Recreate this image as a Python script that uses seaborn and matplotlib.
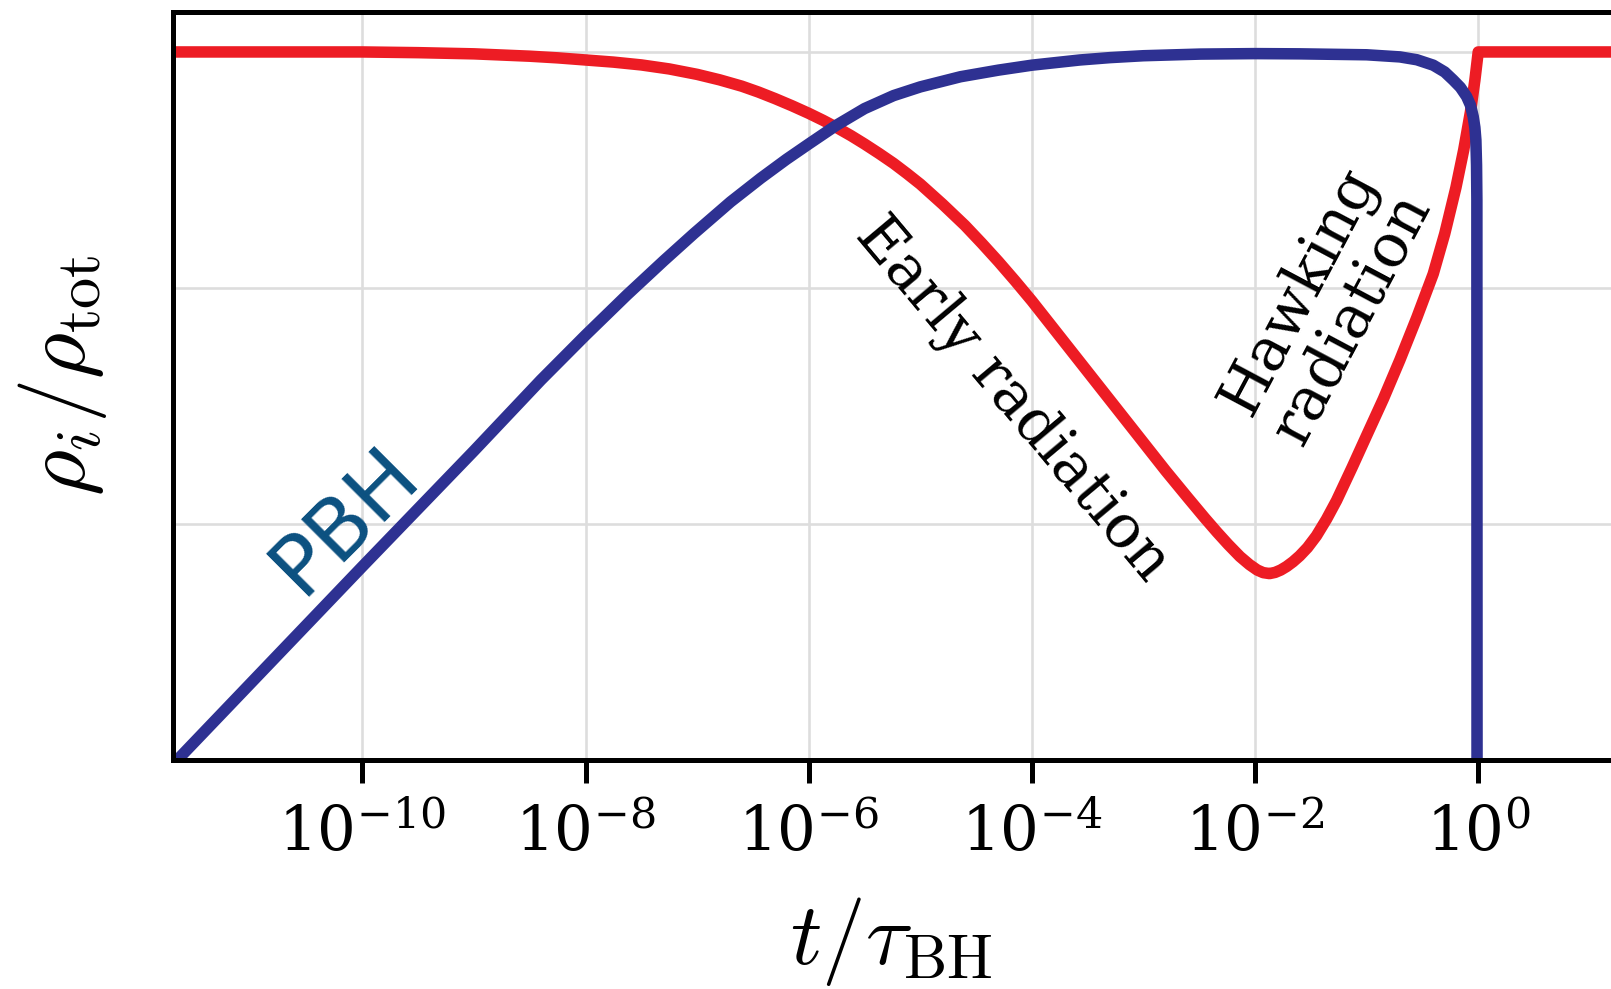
import numpy as np
import pandas as pd
import seaborn as sns
import matplotlib.pyplot as plt

# valores (expoentes em log10)
t_exp_rad = [-11.7, -10.0, -9.5, -9.0, -8.75, -8.5, -8.25, -8.0, -7.75, -7.5, -7.25, -7.0,
             -6.8, -6.6, -6.45, -6.3, -6.15, -6.0, -5.87, -5.75, -5.62, -5.5, -5.37, -5.24,
             -5.12, -5.0, -4.8, -4.6, -4.45, -4.3, -4.15, -4.0, -3.7, -3.4, -3.1, -2.8,
             -2.6, -2.45, -2.34, -2.24, -2.135, -2.05, -1.98, -1.927, -1.87, -1.82, -1.77,
             -1.717, -1.66, -1.6, -1.53, -1.45, -1.36, -1.269, -1.13, -1.0, -0.85, -0.702,
             -0.55, -0.403, -0.3, -0.2, -0.13, -0.07, -0.03, 0.0, 1.3]
rad_exp = [0.0, 0.0, -0.003, -0.008, -0.013, -0.018, -0.025, -0.034, -0.043, -0.055, -0.072,
           -0.095, -0.118, -0.145, -0.17, -0.198, -0.228, -0.26, -0.29, -0.32, -0.355, -0.39,
           -0.43, -0.472, -0.515, -0.56, -0.645, -0.735, -0.81, -0.888, -0.97, -1.055, -1.235,
           -1.415, -1.595, -1.775, -1.89, -1.975, -2.035, -2.087, -2.138, -2.172, -2.195,
           -2.206, -2.21, -2.205, -2.195, -2.18, -2.16, -2.135, -2.10, -2.05, -1.98, -1.90,
           -1.76, -1.625, -1.47, -1.305, -1.125, -0.94, -0.77, -0.575, -0.415, -0.255, -0.12,
           0.0, 0.0]

t_exp_pbh = [-11.7, -10.0, -9.0, -8.4, -8.0, -7.63, -7.3, -7.03, -6.7, -6.43, -6.2, -6.0,
             -5.75, -5.5, -5.24, -5.0, -4.64, -4.3, -4.0, -3.57, -3.3, -3.0, -2.49, -2.0,
             -1.6, -1.0, -0.702, -0.55, -0.403, -0.3, -0.224, -0.16, -0.104, -0.07, -0.045,
             -0.03, -0.021, -0.015, -0.012, -0.010]
pbh_exp = [-3.02, -2.18, -1.69, -1.39, -1.20, -1.03, -0.885, -0.77, -0.635, -0.535, -0.455,
           -0.39, -0.31, -0.24, -0.185, -0.148, -0.105, -0.077, -0.056, -0.034, -0.024, -0.016,
           -0.009, -0.007, -0.008, -0.012, -0.021, -0.033, -0.056, -0.085, -0.119, -0.15,
           -0.189, -0.225, -0.274, -0.32, -0.373, -0.48, -0.627, -4.0]

xtick_exp = [-10, -8, -6, -4, -2, 0]
ytick_exp = [-3, -2, -1, 0]

sns.set_theme(style="whitegrid")
plt.rcParams['font.family'] = ['DejaVu Serif']
plt.rcParams['mathtext.fontset'] = 'dejavuserif'

df_rad = pd.DataFrame({'t': 10.0 ** np.array(t_exp_rad), 'rho': 10.0 ** np.array(rad_exp)})
df_pbh = pd.DataFrame({'t': 10.0 ** np.array(t_exp_pbh), 'rho': 10.0 ** np.array(pbh_exp)})

fig = plt.figure(figsize=(16.11, 9.89), dpi=100)
ax = fig.add_axes([0.1072, 0.2315, 0.8928, 0.7563])

sns.lineplot(data=df_rad, x='t', y='rho', color='#ed1c24', linewidth=8.3, sort=False,
             estimator=None, ax=ax)
sns.lineplot(data=df_pbh, x='t', y='rho', color='#2e3192', linewidth=8.3, sort=False,
             estimator=None, ax=ax)

ax.set_xscale('log')
ax.set_yscale('log')
ax.set_xlim(10 ** -11.7, 10 ** 1.19)
ax.set_ylim(10 ** -3, 10 ** 0.169)
ax.set_xticks([10.0 ** e for e in xtick_exp])
ax.set_xticklabels([f'$10^{{{e}}}$' for e in xtick_exp])
ax.set_yticks([10.0 ** e for e in ytick_exp])
ax.set_yticklabels([])
ax.minorticks_off()
ax.tick_params(axis='x', which='major', bottom=True, direction='out', length=16.6,
               width=3.6, color='black', labelsize=44, pad=15, labelcolor='black')
ax.tick_params(axis='y', left=False, length=0)
ax.grid(True, color='#dddddd', lw=1.9)
for s in ['left', 'bottom', 'top']:
    ax.spines[s].set_color('black')
    ax.spines[s].set_linewidth(3.6)
ax.spines['right'].set_visible(False)

ax.set_xlabel(r'$t/\tau_{\rm BH}$', fontsize=63, math_fontfamily='cm', color='black')
ax.set_ylabel(r'$\rho_i/\rho_{\rm tot}$', fontsize=64, math_fontfamily='cm', color='black')
ax.xaxis.set_label_coords(0.5, -0.18)
ax.yaxis.set_label_coords(-0.044, 0.515)

# rótulos das curvas
ax.text(10 ** -10.15, 10 ** -1.983, 'PBH', family='DejaVu Sans', fontsize=60,
        color='#0b5080', rotation=45, rotation_mode='anchor', ha='center', va='center')
ax.text(10 ** -4.17, 10 ** -1.47, 'Early radiation', fontsize=43, color='black',
        rotation=-50, rotation_mode='anchor', ha='center', va='center')
ax.text(10 ** -1.37, 10 ** -1.07, 'Hawking\nradiation', fontsize=43, color='black',
        rotation=62, rotation_mode='anchor', ha='center', va='center', linespacing=1.0)

plt.savefig('out.png', dpi=100)
